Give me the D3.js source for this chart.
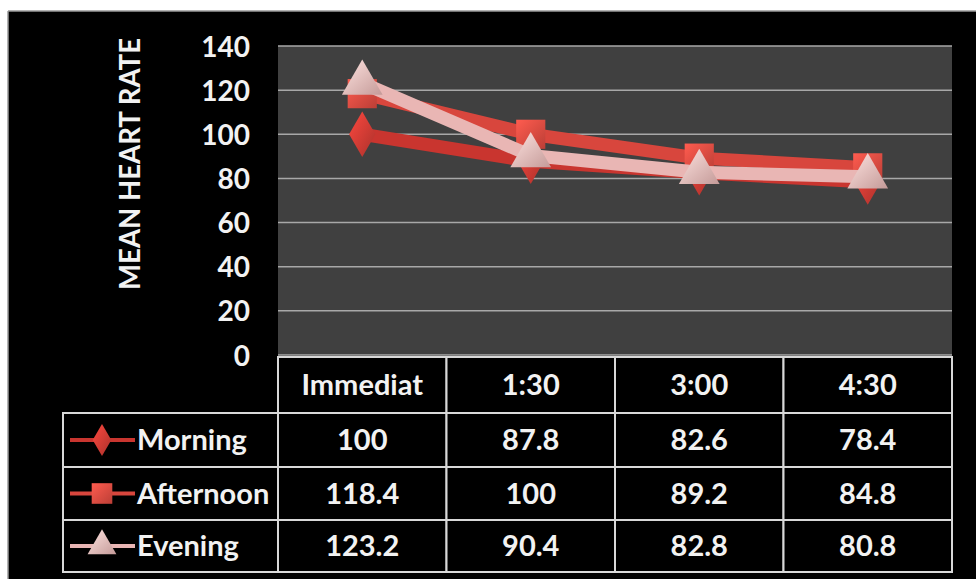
<!DOCTYPE html>
<html lang="en">
<meta charset="utf-8">
<script src="https://d3js.org/d3.v7.min.js"></script>
<style>
  body { margin: 0; background: #fff; }
  text { font-family: Lato, "Open Sans", sans-serif; font-weight: bold; fill: #f2f2f2; }
</style>
<div id="my_dataviz"></div>
<script>
var categories = ["Immediat", "1:30", "3:00", "4:30"];
var seriesNames = ["Morning", "Afternoon", "Evening"];
var morning = [100, 87.8, 82.6, 78.4];
var afternoon = [118.4, 100, 89.2, 84.8];
var evening = [123.2, 90.4, 82.8, 80.8];
var yTicks = [0, 20, 40, 60, 80, 100, 120, 140];

var series = [
  {name: "Morning", values: morning, line: "#c9352f", marker: "diamond", fill: "#cc3a33"},
  {name: "Afternoon", values: afternoon, line: "#d8463d", marker: "square", fill: "#e04a40"},
  {name: "Evening", values: evening, line: "#e9b6b4", marker: "triangle", fill: "#eab8b6"}
];

var W = 976, H = 579;
var svg = d3.select("#my_dataviz").append("svg")
  .attr("width", W).attr("height", H);

// black panel with thin grey border
svg.append("rect").attr("x", 8).attr("y", 11).attr("width", W - 8).attr("height", H - 11)
  .attr("fill", "#000");
svg.append("line").attr("x1", 8).attr("x2", W).attr("y1", 11).attr("y2", 11)
  .attr("stroke", "#9a9a9a").attr("stroke-width", 1.5);
svg.append("line").attr("x1", 8).attr("x2", 8).attr("y1", 11).attr("y2", H)
  .attr("stroke", "#9a9a9a").attr("stroke-width", 1.5);

var plotL = 278, plotR = 952, plotT = 46, plotB = 355;

var x = d3.scaleBand().domain(categories).range([plotL, plotR]);
var y = d3.scaleLinear().domain([0, 140]).range([plotB, plotT]);

// plot background
svg.append("rect").attr("x", plotL).attr("y", plotT)
  .attr("width", plotR - plotL).attr("height", plotB - plotT)
  .attr("fill", "#404040");

// gridlines
svg.append("g").selectAll("line").data(yTicks).join("line")
  .attr("x1", plotL).attr("x2", plotR)
  .attr("y1", function(d) { return y(d); }).attr("y2", function(d) { return y(d); })
  .attr("stroke", "#a8a8a8").attr("stroke-width", 1.5);

// y axis
var yAxis = svg.append("g")
  .attr("transform", "translate(250,0)")
  .call(d3.axisLeft(y).tickValues(yTicks).tickSize(0).tickPadding(0));
yAxis.select(".domain").remove();
yAxis.selectAll("text")
  .style("font-size", "28px").attr("fill", "#f2f2f2").attr("dy", "0.36em");

// y title
svg.append("text")
  .attr("transform", "translate(140,164) rotate(-90)")
  .attr("text-anchor", "middle")
  .attr("textLength", 252).attr("lengthAdjust", "spacingAndGlyphs")
  .style("font-size", "29px")
  .text("MEAN HEART RATE");

// gradients
var defs = svg.append("defs");
series.forEach(function(s, i) {
  var g = defs.append("linearGradient").attr("id", "grad" + i)
    .attr("x1", 0).attr("y1", 0).attr("x2", 1).attr("y2", 1);
  g.append("stop").attr("offset", "0%").attr("stop-color", d3.color(s.fill).brighter(0.6));
  g.append("stop").attr("offset", "100%").attr("stop-color", d3.color(s.fill).darker(0.5));
});

var symbolTypes = {diamond: d3.symbolDiamond, square: d3.symbolSquare, triangle: d3.symbolTriangle};
var symbolSize = {diamond: 600, square: 850, triangle: 720};

var line = d3.line()
  .x(function(d, i) { return x(categories[i]) + x.bandwidth() / 2; })
  .y(function(d) { return y(d); });

series.forEach(function(s, i) {
  var g = svg.append("g");
  g.append("path").datum(s.values)
    .attr("d", line)
    .attr("fill", "none")
    .attr("stroke", s.line)
    .attr("stroke-width", 13)
    .attr("stroke-linejoin", "round");
  g.selectAll("path.pt").data(s.values).join("path")
    .attr("class", "pt")
    .attr("transform", function(d, j) {
      return "translate(" + (x(categories[j]) + x.bandwidth() / 2) + "," + y(d) + ")";
    })
    .attr("d", d3.symbol().type(symbolTypes[s.marker]).size(symbolSize[s.marker]))
    .attr("fill", "url(#grad" + i + ")");
});

// data table
var legL = 63, rowT = [357, 413, 467, 520, 572];
var tbl = svg.append("g");
var stroke = "#d8d8d8";
var fs = "29px";

// header row cells
categories.forEach(function(c) {
  tbl.append("rect").attr("x", x(c)).attr("y", rowT[0])
    .attr("width", x.bandwidth()).attr("height", rowT[1] - rowT[0])
    .attr("fill", "#000").attr("stroke", stroke).attr("stroke-width", 2);
  tbl.append("text")
    .attr("x", x(c) + x.bandwidth() / 2).attr("y", (rowT[0] + rowT[1]) / 2)
    .attr("dy", "0.36em").attr("text-anchor", "middle")
    .style("font-size", fs).text(c);
});

series.forEach(function(s, i) {
  var top = rowT[i + 1], bot = rowT[i + 2];
  tbl.append("rect").attr("x", legL).attr("y", top)
    .attr("width", plotL - legL).attr("height", bot - top)
    .attr("fill", "#000").attr("stroke", stroke).attr("stroke-width", 2);
  // legend key
  var cy = (top + bot) / 2;
  tbl.append("line").attr("x1", 70).attr("x2", 135).attr("y1", cy).attr("y2", cy)
    .attr("stroke", s.line).attr("stroke-width", 4);
  tbl.append("path")
    .attr("transform", "translate(102," + cy + ")")
    .attr("d", d3.symbol().type(symbolTypes[s.marker]).size(symbolSize[s.marker] * 0.5))
    .attr("fill", "url(#grad" + i + ")");
  tbl.append("text").attr("x", 137).attr("y", cy).attr("dy", "0.36em")
    .style("font-size", fs).text(s.name);
  categories.forEach(function(c, j) {
    tbl.append("rect").attr("x", x(c)).attr("y", top)
      .attr("width", x.bandwidth()).attr("height", bot - top)
      .attr("fill", "#000").attr("stroke", stroke).attr("stroke-width", 2);
    tbl.append("text")
      .attr("x", x(c) + x.bandwidth() / 2).attr("y", cy)
      .attr("dy", "0.36em").attr("text-anchor", "middle")
      .style("font-size", fs).text(s.values[j]);
  });
});
</script>
</html>
